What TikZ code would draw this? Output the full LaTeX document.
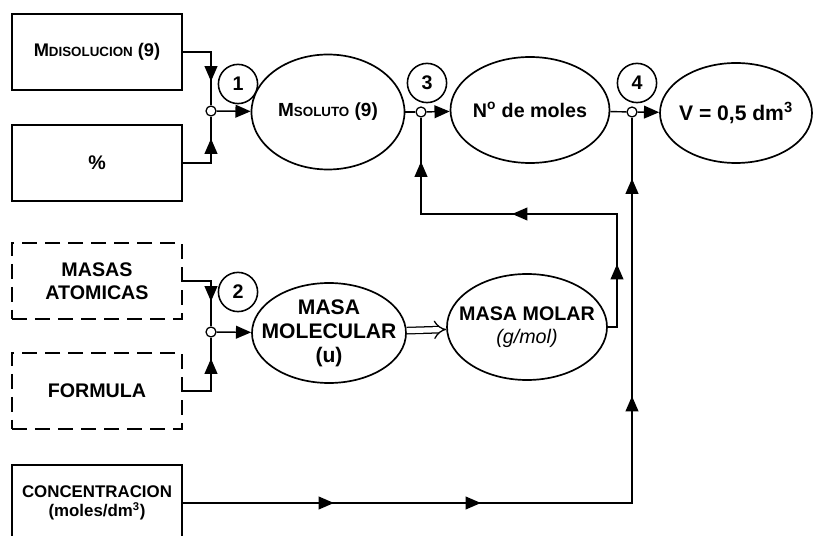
\documentclass[tikz,border=0pt]{standalone}
\usepackage{fontspec}
\setmainfont{Liberation Sans}
\usetikzlibrary{shapes.geometric,arrows.meta,decorations.markings}
\newcommand\versal[1]{{\fontsize{9.5}{11}\selectfont #1}}
\tikzset{
  caja/.style={draw,line width=1.2pt,minimum width=42.5mm,minimum height=19mm,align=center,
    font=\fontsize{14}{16}\selectfont\bfseries},
  cajad/.style={caja,dash pattern=on 3.75mm off 2mm},
  elipse/.style={draw,ellipse,line width=1.2pt,inner sep=-4mm,align=center,
    font=\fontsize{14}{16}\selectfont\bfseries},
  num/.style={draw,circle,line width=1.1pt,minimum size=9.8mm,inner sep=0pt,
    font=\fontsize{14}{16}\selectfont\bfseries},
  union/.style={draw,circle,fill=white,line width=0.9pt,minimum size=2.5mm,inner sep=0pt},
  linea/.style={line width=1pt},
  marca/.style={postaction={decorate,decoration={markings,mark=at position #1 with {\arrow{>}}}}},
  >={Triangle[length=3.8mm,width=3.2mm]},
}
\begin{document}
\begin{tikzpicture}[x=0.25mm,y=-0.25mm]
  \useasboundingbox (0,0) rectangle (814,536);
  % datos de entrada
  \node[caja,font=\fontsize{13}{15}\selectfont\bfseries] (mdis) at (97,52) {M\versal{DISOLUCION} (9)};
  \node[caja]  (pct)     at (97,163) {\%};
  \node[cajad] (masas)   at (97,281) {MASAS\\ATOMICAS};
  \node[cajad] (formula) at (97,391) {FORMULA};
  \node[caja,font=\fontsize{12}{14}\selectfont\bfseries] (conc) at (97,503) {CONCENTRACION\\(moles/dm\textsuperscript{3})};
  % magnitudes
  \node[elipse,minimum width=38.25mm,minimum height=28.75mm,font=\fontsize{13.5}{15}\selectfont\bfseries] (soluto) at (328,112) {M\versal{SOLUTO} (9)};
  \node[elipse,minimum width=39.75mm,minimum height=26.5mm] (moles) at (530,110) {N\textsuperscript{o} de moles};
  \node[elipse,minimum width=38mm,minimum height=25mm,font=\fontsize{15}{17}\selectfont\bfseries] (vol) at (736,113) {V = 0,5 dm\textsuperscript{3}};
  \node[elipse,minimum width=38.5mm,minimum height=25mm,font=\fontsize{15}{17}\selectfont\bfseries] (molec) at (329,333) {MASA\\MOLECULAR\\(u)};
  \node[elipse,minimum width=40mm,minimum height=26.5mm] (molar) at (527,327) {MASA MOLAR\\{\mdseries\itshape (g/mol)}};
  % pasos
  \node[num] (c1) at (238,84)  {1};
  \node[num] (c2) at (238,292) {2};
  \node[num] (c3) at (427,83)  {3};
  \node[num] (c4) at (637,83)  {4};
  % uniones
  \node[union] (j1) at (211,111) {};
  \node[union] (j2) at (211,332) {};
  \node[union] (j3) at (421,112) {};
  \node[union] (j4) at (632,112) {};
  \coordinate (r1) at (617,214);
  % conexiones
  \draw[linea,marca=-6mm] (mdis.east) -| (j1);
  \draw[linea,marca=-5.5mm] (pct.east) -| (j1);
  \draw[linea,->] (j1) -- (soluto);
  \draw[linea,marca=-6.25mm] (masas.east) -| (j2);
  \draw[linea,marca=-5.25mm] (formula.east) -| (j2);
  \draw[linea,->] (j2) -- (molec);
  \draw[line width=0.9pt,double,double distance=1.3mm,-{Implies[length=2.5mm]}] (molec) -- (molar);
  \draw[linea] (soluto) -- (j3);
  \draw[linea,->] (j3) -- (moles);
  \draw[linea] (moles) -- (j4);
  \draw[linea,->] (j4) -- (vol);
  \draw[linea,marca=18mm,marca=56.75mm,marca=-11mm] (molar.east) -| (r1) -| (j3);
  \draw[linea,marca=37.75mm,marca=74.5mm,marca=139mm,marca=-15.25mm] (conc.east) -| (j4);
\end{tikzpicture}
\end{document}
